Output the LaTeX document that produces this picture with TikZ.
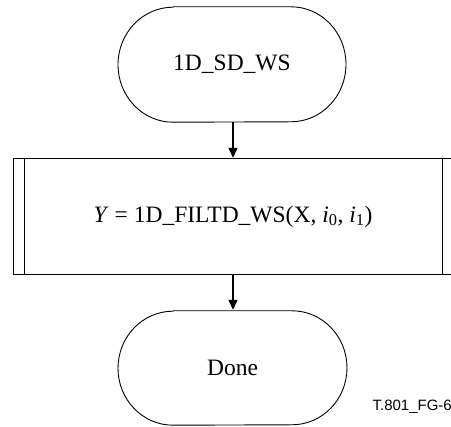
\documentclass[tikz,border=0pt]{standalone}
\usepackage{fontspec}
\setmainfont{Liberation Serif}
\newfontfamily\labelfont{Liberation Sans}
\usetikzlibrary{arrows.meta}
\tikzset{
  x=1pt, y=1pt,
  outline/.style={draw=black, line width=0.9pt},
  termtext/.style={font=\fontsize{23.5}{28}\selectfont, inner sep=0pt},
  flow/.style={line width=1.3pt, -{Triangle[length=10pt,width=9pt]}, shorten >=1pt},
  inner/.style={draw=black, line width=1.4pt},
}
\begin{document}
\begin{tikzpicture}
\useasboundingbox (0,0) rectangle (451,427);
% nodes
\node[termtext, minimum width=228pt, minimum height=115pt] (start) at (232,362.5) {1D\_SD\_WS};
\node[termtext, minimum width=438pt, minimum height=115pt] (proc) at (233,210.5)
  {\textit{Y} = 1D\_FILTD\_WS(X, \textit{i}\textsubscript{0}, \textit{i}\textsubscript{1})};
\node[termtext, minimum width=229pt, minimum height=114pt] (done) at (232.5,59) {Done};
\node[font=\labelfont\fontsize{15}{17}\selectfont, anchor=east, inner sep=0pt] (fig) at (452,20) {T.801\_FG-6};
% terminal outlines
\draw[outline] ([xshift=-59pt]start.north) -- ([xshift=59pt]start.north)
  arc[start angle=90, end angle=-90, x radius=55, y radius=57.5]
  -- ([xshift=-59pt]start.south)
  arc[start angle=270, end angle=90, x radius=55, y radius=57.5] -- cycle;
\draw[outline] ([xshift=-59.5pt]done.north) -- ([xshift=59.5pt]done.north)
  arc[start angle=90, end angle=-90, x radius=55, y radius=57]
  -- ([xshift=-59.5pt]done.south)
  arc[start angle=270, end angle=90, x radius=55, y radius=57] -- cycle;
% process box
\draw[outline] (proc.south west) rectangle (proc.north east);
\draw[inner] ([xshift=10.7pt]proc.south west) -- ([xshift=10.7pt]proc.north west);
\draw[inner] ([xshift=-10pt]proc.south east) -- ([xshift=-10pt]proc.north east);
% connectors
\draw[flow] ([xshift=1pt]start.south) -- ([xshift=1pt]proc.north -| start.south);
\draw[flow] (proc.south) -- (proc.south |- done.north);
\end{tikzpicture}
\end{document}
